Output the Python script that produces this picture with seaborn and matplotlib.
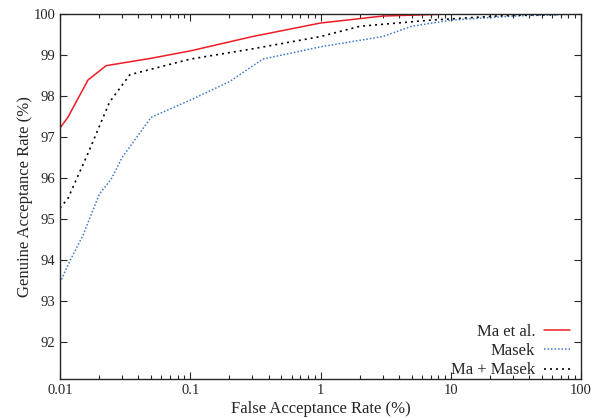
import numpy as np
import pandas as pd
import matplotlib
matplotlib.use("Agg")
import matplotlib.pyplot as plt
import matplotlib.ticker as mticker
import seaborn as sns

# data
far_ma = [0.01, 0.0115, 0.0164, 0.0226, 0.05, 0.1, 0.3, 1, 3, 10, 100]
gar_ma = [97.22, 97.48, 98.39, 98.74, 98.92, 99.1, 99.45, 99.78, 99.95, 100, 100]

far_masek = [0.01, 0.012, 0.015, 0.02, 0.025, 0.03, 0.05, 0.1, 0.2, 0.36, 1, 3, 5, 10, 30, 100]
gar_masek = [93.45, 94.0, 94.6, 95.6, 96.0, 96.5, 97.48, 97.9, 98.35, 98.9, 99.2, 99.45, 99.7, 99.85, 99.95, 100]

far_comb = [0.01, 0.0115, 0.0164, 0.024, 0.0344, 0.1, 0.3, 1, 2, 7, 25, 100]
gar_comb = [95.27, 95.5, 96.6, 97.85, 98.52, 98.9, 99.15, 99.45, 99.7, 99.85, 99.96, 100]

x_ticks = [0.01, 0.1, 1, 10, 100]
x_tick_labels = ["0.01", "0.1", "1", "10", "100"]
y_ticks = [92, 93, 94, 95, 96, 97, 98, 99, 100]

sns.set_style("ticks")
plt.rcParams["font.family"] = ["Liberation Serif", "DejaVu Serif"]
plt.rcParams["font.size"] = 10.5

fig = plt.figure(figsize=(6.01, 4.18), dpi=100)
ax = fig.add_axes([0.0998, 0.0933, 0.867, 0.8732])

sns.lineplot(x=far_ma, y=gar_ma, ax=ax, color="#ee1c25", lw=1.1, label="Ma et al.")
sns.lineplot(x=far_masek, y=gar_masek, ax=ax, color="#3d78c8", lw=1.1,
             linestyle=(0, (1, 1.3)), label="Masek")
sns.lineplot(x=far_comb, y=gar_comb, ax=ax, color="black", lw=1.2,
             linestyle=(0, (1.2, 2.4)), label="Ma + Masek")

ax.set_xscale("log")
ax.set_xlim(0.01, 100)
ax.set_ylim(91.1, 100)
ax.set_xticks(x_ticks)
ax.xaxis.set_major_formatter(mticker.FixedFormatter(x_tick_labels))
ax.xaxis.set_minor_locator(mticker.LogLocator(base=10, subs=np.arange(2, 10)))
ax.xaxis.set_minor_formatter(mticker.NullFormatter())
ax.set_yticks(y_ticks)

ax.tick_params(which="both", direction="in", top=True, right=True, labelsize=10.5)
ax.tick_params(which="major", length=5, width=0.8)
ax.tick_params(which="minor", length=3, width=0.8)
for s in ax.spines.values():
    s.set_linewidth(1.0)
    s.set_visible(True)

ax.set_xlabel("False Acceptance Rate (%)", fontsize=12, labelpad=3)
ax.set_ylabel("Genuine Acceptance Rate (%)", fontsize=12, labelpad=0)

ax.legend(loc="lower right", bbox_to_anchor=(1.0, -0.028), frameon=False,
          markerfirst=False, fontsize=12, handlelength=1.6, handletextpad=0.5,
          labelspacing=0.2, borderaxespad=0.25)

fig.savefig("out.png", dpi=100)
